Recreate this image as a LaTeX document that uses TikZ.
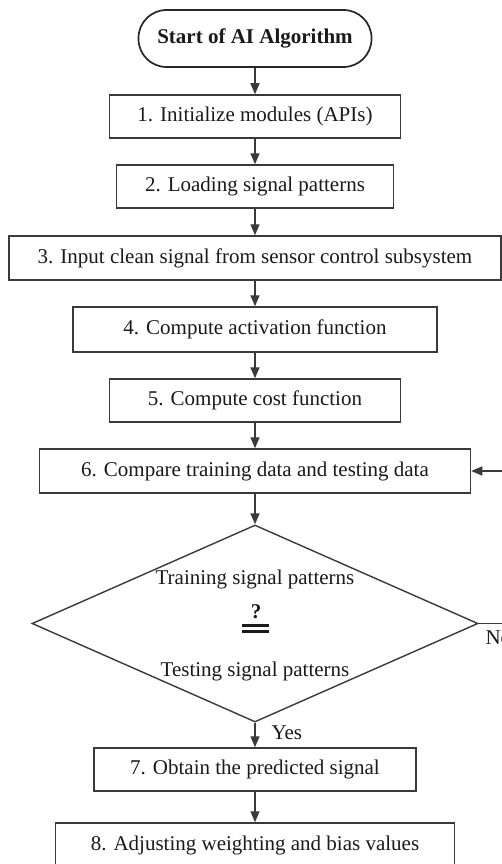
\documentclass[tikz,border=0pt]{standalone}
\usepackage{fontspec}
\setmainfont{Liberation Serif}
\usetikzlibrary{shapes.geometric,arrows.meta}
\definecolor{linec}{HTML}{3A3A3A}
\definecolor{textc}{HTML}{1A1A1A}
\begin{document}
\begin{tikzpicture}[x=1pt,y=-1pt,
  txt/.style={font=\fontsize{21}{24}\selectfont, text=textc},
  btxt/.style={font=\fontsize{21}{24}\selectfont\bfseries, text=textc},
  stepbox/.style={txt, draw=linec, line width=1.5pt, rectangle, inner sep=0pt, minimum height=44pt},
  termbox/.style={btxt, draw=black!85, line width=1.7pt, rectangle, rounded corners=28pt, inner sep=0pt, minimum width=233pt, minimum height=57pt},
  decbox/.style={draw=linec, line width=1.4pt, diamond, inner sep=0pt, minimum width=446pt, minimum height=197pt},
  conn/.style={draw=linec, line width=1.4pt, -{Triangle[length=11pt,width=9pt]}},
  plainline/.style={draw=linec, line width=1.4pt}
]
\useasboundingbox (0,0) rectangle (502,864);
\fill[white] (0,0) rectangle (502,864);

\node[termbox] (start) at (255,38.5) {Start of AI Algorithm};
\node[stepbox, minimum width=291pt, minimum height=43pt] (b1) at (255,116.5) {1. Initialize modules (APIs)};
\node[stepbox, minimum width=277pt, minimum height=43pt] (b2) at (255,186.5) {2. Loading signal patterns};
\node[stepbox, minimum width=492pt] (b3) at (255,258) {3. Input clean signal from sensor control subsystem};
\node[stepbox, minimum width=364pt, minimum height=45pt] (b4) at (255,329.5) {4. Compute activation function};
\node[stepbox, minimum width=291pt, minimum height=43pt] (b5) at (255,400.5) {5. Compute cost function};
\node[stepbox, minimum width=431pt] (b6) at (255,471) {6. Compare training data and testing data};
\node[decbox] (dec) at (255,623.5) {};
\node[txt, anchor=base] (t1) at (255,584) {Training signal patterns};
\node[btxt, anchor=base] (q) at (256,618) {?};
\fill[textc] (242,623.5) rectangle (269,626.5);
\fill[textc] (242,630) rectangle (269,633);
\node[txt, anchor=base] (t2) at (255,676) {Testing signal patterns};
\node[stepbox, minimum width=322pt, minimum height=43pt] (b7) at (255,769.5) {7. Obtain the predicted signal};
\node[stepbox, minimum width=399pt] (b8) at (255,845) {8. Adjusting weighting and bias values};

\node[txt, anchor=base west] (yes) at (268,739) {Yes};
\node[txt, anchor=base west] (no) at (482,644) {No};

\draw[conn] (start.south) -- (b1.north);
\draw[conn] (b1.south) -- (b2.north);
\draw[conn] (b2.south) -- (b3.north);
\draw[conn] (b3.south) -- (b4.north);
\draw[conn] (b4.south) -- (b5.north);
\draw[conn] (b5.south) -- (b6.north);
\draw[conn] (b6.south) -- (dec.north);
\draw[conn] (dec.south) -- (b7.north);
\draw[conn] (b7.south) -- (b8.north);

\coordinate (fb1) at (515,623.5);
\coordinate (fb2) at (515,471);
\draw[conn] (dec.east) -- (fb1) -- (fb2) -- (b6.east);
\end{tikzpicture}
\end{document}
